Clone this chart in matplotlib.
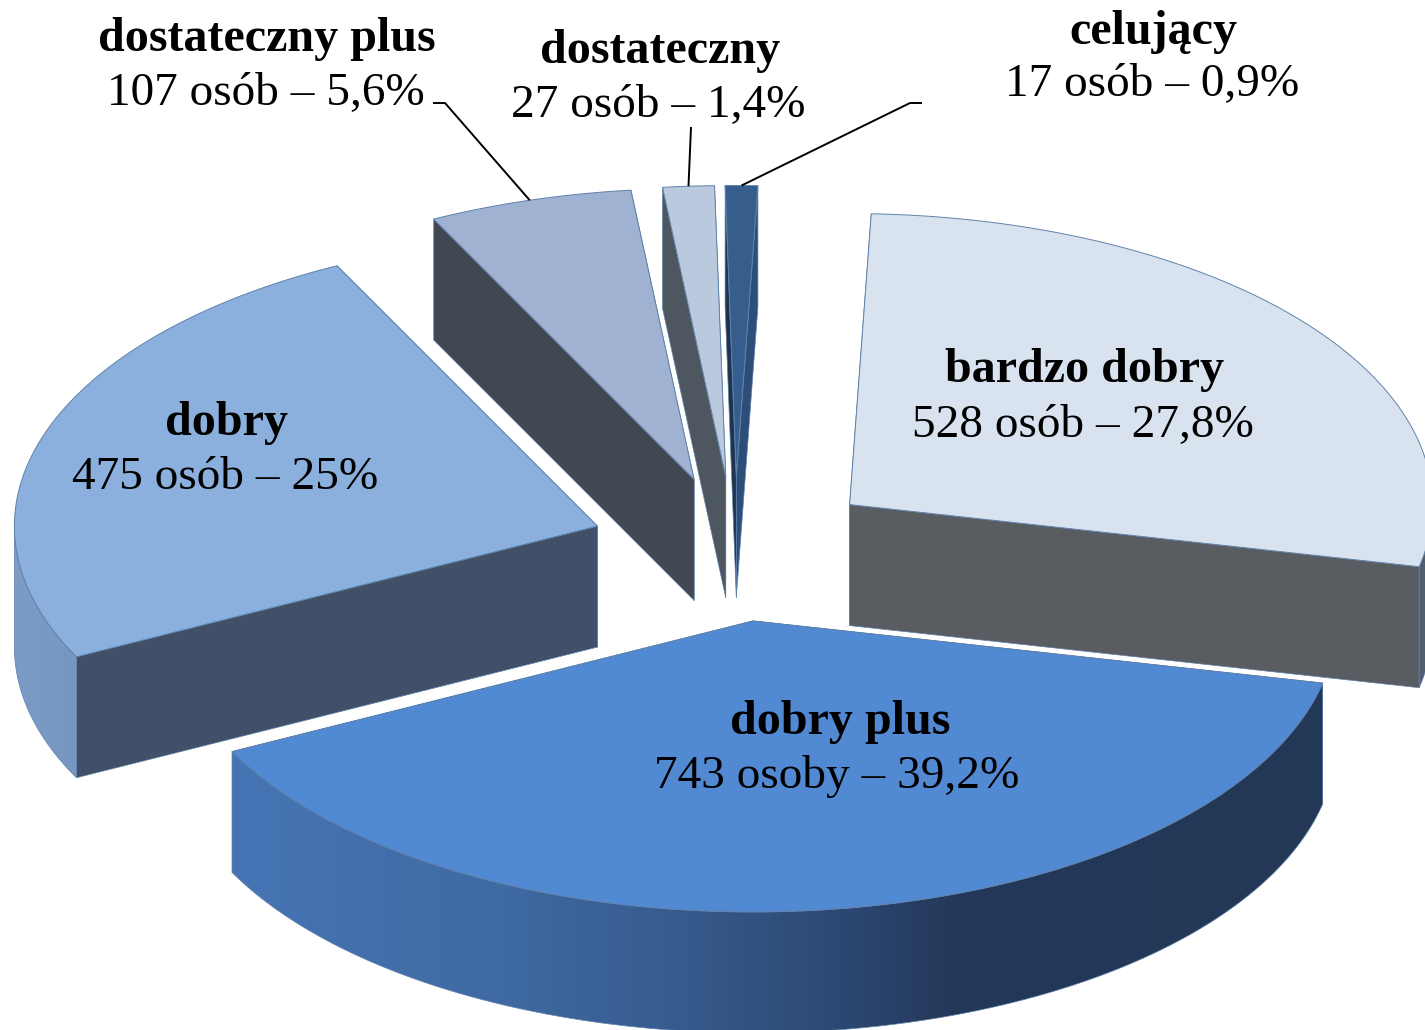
import numpy as np
import matplotlib
matplotlib.use("Agg")
import matplotlib.pyplot as plt
from matplotlib.patches import Polygon
from matplotlib.colors import to_rgb

# ---- data ----
grades = ["celujący", "bardzo dobry", "dobry plus", "dobry", "dostateczny plus", "dostateczny"]
counts = [17, 528, 743, 475, 107, 27]
value_labels = ["17 osób – 0,9%", "528 osób – 27,8%", "743 osoby – 39,2%",
                "475 osób – 25%", "107 osób – 5,6%", "27 osób – 1,4%"]

# ---- styles / layout ----
top_colors = ["#365d8c", "#d9e3f0", "#5289d3", "#8bb0de", "#9fb2d2", "#bbc9de"]
start_wall = ["#1e3350", "#505e70", "#233856", "#415068", "#414853", "#4e5760"]
end_wall = ["#2e4e7a", "#595c61", "#233856", "#415068", "#414853", "#4e5760"]
outer_stops = {
    1: [(0, "#505e70"), (1, "#505e70")],
    2: [(0, "#4675b5"), (0.245, "#3f6aa3"), (0.43, "#36598a"), (0.57, "#2b4670"), (0.66, "#24395a"), (1, "#233856")],
    3: [(0, "#7c9cc6"), (1, "#7697c1")],
}
edge = "#5f82ab"
draw_order = [0, 5, 4, 1, 3, 2]
label_pos = {0: ((1153, 32), (1152, 85)), 1: ((1085, 370), (1083, 426)),
             2: ((840, 722), (837, 777)), 3: ((227, 423), (225, 478)),
             4: ((267, 39), (266, 94)), 5: ((660, 51), (658, 106))}
leader_from = {4: [(433, 103), (445, 103)], 5: [(691, 127)], 0: [(922, 103), (910, 103)]}

CX, CY = 735.0, 549.0
RX, RY = 583.0, 291.0
DEPTH = 121.0
EXPLODE = 145.0
ROTATION = -1.1
FS = 34
FS_BOLD = 34.6

fig = plt.figure(figsize=(14.25, 10.30), dpi=100)
ax = fig.add_axes([0, 0, 1, 1])
ax.set_xlim(0, 1425)
ax.set_ylim(1030, 0)
ax.axis("off")

fractions = np.array(counts) / np.sum(counts)
edges_deg = ROTATION + 360 * np.concatenate([[0], np.cumsum(fractions)])


def unit(theta):
    t = np.radians(theta)
    return np.sin(t), -np.cos(t)


def arc(ox, oy, a, b, n=160):
    t = np.linspace(a, b, n)
    ux, uy = unit(t)
    return ox + RX * ux, oy + RY * uy


def gradient(stops, n=512):
    xs = np.linspace(0, 1, n)
    pos = [s[0] for s in stops]
    rgb = np.array([to_rgb(s[1]) for s in stops])
    return np.stack([np.interp(xs, pos, rgb[:, k]) for k in range(3)], axis=1)[None, :, :]


z = 1
for i in draw_order:
    a, b = edges_deg[i], edges_deg[i + 1]
    mid = (a + b) / 2
    ux, uy = unit(mid)
    ox = CX + EXPLODE * ux
    oy = CY + EXPLODE * 0.5 * uy

    # radial walls, the nearer one last
    walls = []
    for ang, col in ((a, start_wall[i]), (b, end_wall[i])):
        px, py = arc(ox, oy, ang, ang, 1)
        walls.append((py[0], px[0], col))
    for py, px, col in sorted(walls, key=lambda w: w[0]):
        ax.add_patch(Polygon([(ox, oy), (px, py), (px, py + DEPTH), (ox, oy + DEPTH)],
                             closed=True, fc=col, ec=edge, lw=0.5, zorder=z, joinstyle="round"))
        z += 1

    # outer wall (front half of the rim only)
    lo, hi = max(a, 90), min(b, 270)
    if hi > lo and i in outer_stops:
        wx, wy = arc(ox, oy, lo, hi)
        pts = np.vstack([np.column_stack([wx, wy]),
                         np.column_stack([wx[::-1], wy[::-1] + DEPTH])])
        clip = Polygon(pts, closed=True, fc="none", ec=edge, lw=0.5, zorder=z + 1)
        ax.add_patch(clip)
        im = ax.imshow(gradient(outer_stops[i]),
                       extent=(wx.min(), wx.max(), wy.max() + DEPTH, wy.min()),
                       aspect="auto", zorder=z, interpolation="bilinear")
        im.set_clip_path(clip)
        z += 2

    # top face
    tx, ty = arc(ox, oy, a, b)
    ax.add_patch(Polygon(np.vstack([[ox, oy], np.column_stack([tx, ty])]), closed=True,
                         fc=top_colors[i], ec=edge, lw=0.7, zorder=z, joinstyle="round"))
    z += 1

    # leader line towards the middle of the rim
    if i in leader_from:
        lx, ly = arc(ox, oy, mid, mid, 1)
        xs = [p[0] for p in leader_from[i]] + [lx[0]]
        ys = [p[1] for p in leader_from[i]] + [ly[0]]
        ax.plot(xs, ys, color="black", lw=1.4, zorder=500, solid_capstyle="butt")

ax.set_xlim(0, 1425)
ax.set_ylim(1030, 0)

for i, (name, val) in enumerate(zip(grades, value_labels)):
    (x1, y1), (x2, y2) = label_pos[i]
    ax.text(x1, y1, name, family="Liberation Serif", weight="bold", fontsize=FS_BOLD,
            ha="center", va="center", color="black", zorder=600)
    ax.text(x2, y2, val, family="Liberation Serif", fontsize=FS,
            ha="center", va="center", color="black", zorder=600)

fig.savefig("out.png", dpi=100)
